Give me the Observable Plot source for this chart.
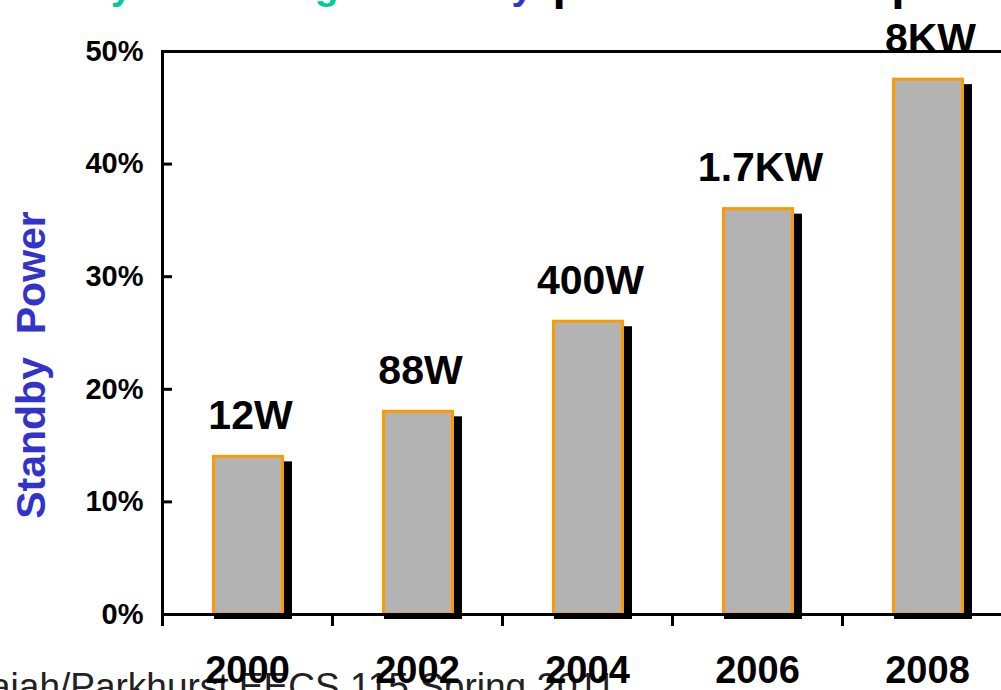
<!DOCTYPE html>
<html>
<head>
<meta charset="utf-8">
<script src="https://cdn.jsdelivr.net/npm/d3@7"></script>
<script src="https://cdn.jsdelivr.net/npm/@observablehq/plot@0.6"></script>
<style>
  html, body { margin: 0; padding: 0; background: white; overflow: hidden; }
  #chart { width: 1001px; height: 690px; overflow: hidden; }
</style>
</head>
<body>
<div id="chart"></div>
<script>
// Standby power share by year, with the absolute standby power written above each bar
const years = ["2000", "2002", "2004", "2006", "2008"];
const shares = [0.14, 0.18, 0.26, 0.36, 0.475];
const powerLabels = ["12W", "88W", "400W", "1.7KW", "8KW"];
const yTicks = [0, 0.1, 0.2, 0.3, 0.4, 0.5];
const yTitle = "Standby  Power";
const footer = "aiah/Parkhurst EECS 115 Spring 2011";

const rows = years.map((year, i) => ({year, share: shares[i], label: powerLabels[i]}));

const font = "Arial, 'Liberation Sans', Helvetica, sans-serif";

const chart = Plot.plot({
  width: 1012,
  height: 690,
  marginLeft: 162,
  marginRight: 0,
  marginTop: 51,
  marginBottom: 76,
  style: {fontFamily: font, color: "black", background: "white", maxWidth: "none"},
  x: {domain: years, padding: 0, axis: null},
  y: {domain: [0, 0.5], axis: null},
  marks: [
    // drop shadow behind each bar
    Plot.barY(rows, {x: "year", y: "share", fill: "black", insetLeft: 52, insetRight: 40, dy: 5}),
    // the bars themselves
    Plot.barY(rows, {x: "year", y: "share", fill: "#b3b3b3", stroke: "#ff9900", strokeWidth: 3,
                     insetLeft: 51.5, insetRight: 49.5}),
    // plot frame (right edge falls outside the page)
    Plot.frame({stroke: "black", strokeWidth: 3}),
    // inward ticks on the left axis
    Plot.axisY(yTicks, {tickSize: 10, dx: 10, fill: "none", strokeWidth: 3, label: null}),
    // y tick labels
    Plot.axisY(yTicks, {tickSize: 0, tickPadding: 19, fontSize: 29, fontWeight: "bold",
                        tickFormat: d => `${Math.round(d * 100)}%`, label: null}),
    // category boundary ticks below the baseline
    Plot.axisX(years, {tickSize: 12, dx: -85, fill: "none", strokeWidth: 3, label: null}),
    // year labels
    Plot.axisX(years, {tickSize: 0, tickPadding: 42, fontSize: 38, fontWeight: "bold", label: null}),
    // standby power labels above the bars
    Plot.text(rows, {x: "year", y: "share", text: "label", lineAnchor: "bottom", dy: -28, dx: 3,
                     fontSize: 41, fontWeight: "bold", fill: "black"}),
    // rotated y-axis title
    Plot.text([yTitle], {frameAnchor: "left", dx: -131, dy: 32, rotate: -90, lineAnchor: "middle",
                         textAnchor: "middle", fontSize: 41, fontWeight: "bold", fill: "#3333cc"})
  ]
});

document.getElementById("chart").appendChild(chart);

const svg = d3.select(chart);

// slide footer, sitting below the chart
svg.insert("text", ":first-child")
  .attr("x", -10)
  .attr("y", 699)
  .attr("text-anchor", "start")
  .attr("font-family", font)
  .attr("font-size", 37)
  .attr("fill", "#222")
  .text(footer);

// slide heading above the chart
const heading = svg.append("text")
  .attr("x", -121)
  .attr("y", -1)
  .attr("text-anchor", "start")
  .attr("font-family", font)
  .attr("font-size", 39)
  .attr("font-weight", "bold");
heading.append("tspan").attr("fill", "#00cc99").text("Exponentially Increasing");
heading.append("tspan").attr("fill", "#3333cc").attr("dx", 30).text(" Standby");
heading.append("tspan").attr("fill", "black").attr("font-size", 48).attr("dx", 6).text(" power consumption");
</script>
</body>
</html>
